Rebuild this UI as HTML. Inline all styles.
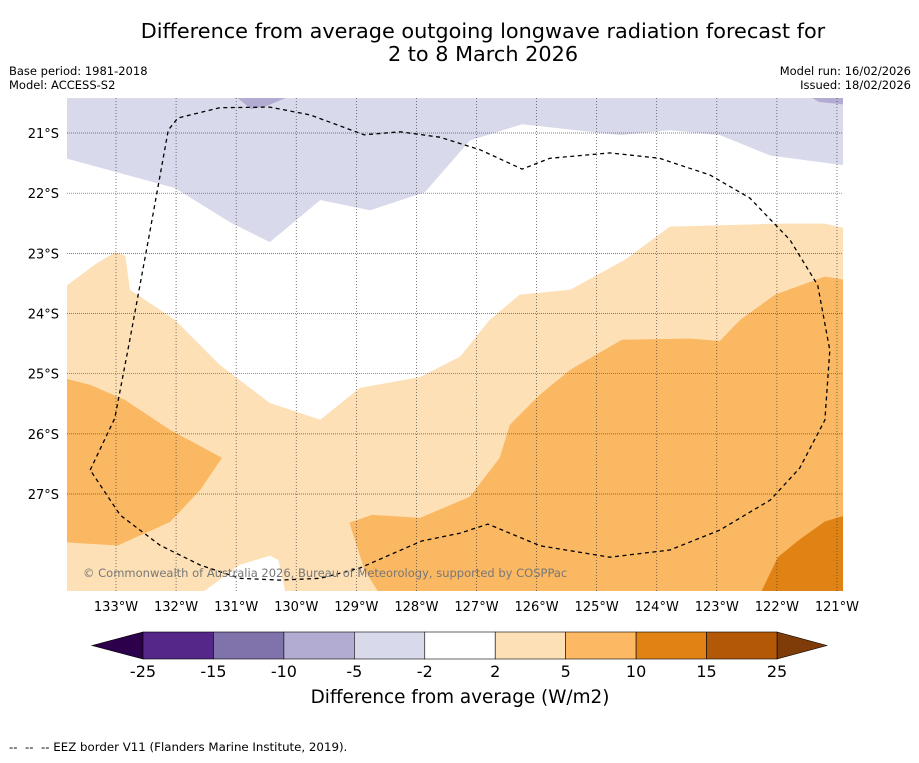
<!DOCTYPE html>
<html><head><meta charset="utf-8"><style>
body{margin:0;background:#fff;font-family:"Liberation Sans","DejaVu Sans",sans-serif}
</style></head><body>
<svg id="chart" width="919" height="758" xmlns="http://www.w3.org/2000/svg" font-family="DejaVu Sans, Liberation Sans, sans-serif">
<text x="483" y="38" font-size="20.8" text-anchor="middle">Difference from average outgoing longwave radiation forecast for</text>
<text x="483" y="61" font-size="20.8" text-anchor="middle">2 to 8 March 2026</text>
<text x="9" y="75" font-size="11.5">Base period: 1981-2018</text>
<text x="9" y="89" font-size="11.5">Model: ACCESS-S2</text>
<text x="911" y="75" font-size="11.5" text-anchor="end">Model run: 16/02/2026</text>
<text x="911" y="89" font-size="11.5" text-anchor="end">Issued: 18/02/2026</text>
<defs><clipPath id="mapclip"><rect x="67" y="98" width="776" height="493"/></clipPath></defs>
<g id="map" clip-path="url(#mapclip)"></g>
<g id="axes"></g>
<g id="cbar"></g>
<text x="460" y="703" font-size="18.4" text-anchor="middle">Difference from average (W/m2)</text>
<text x="9" y="751" font-size="11.8" xml:space="preserve" style="white-space:pre">--  --  -- EEZ border V11 (Flanders Marine Institute, 2019).</text>
</svg>
<script>
const lonTicks=[-133,-132,-131,-130,-129,-128,-127,-126,-125,-124,-123,-122,-121];
const latTicks=[-21,-22,-23,-24,-25,-26,-27];
const cbarLevels=[-25,-15,-10,-5,-2,2,5,10,15,25];
const cbarColors=["#542788","#8073ac","#b2abd2","#d8daeb","#ffffff","#fee0b6","#fdb863","#e08214","#b35806"];
const purpleLight=[[-133.82,-20.42],[-120.9,-20.42],[-120.9,-21.53],[-122.11,-21.37],[-122.95,-21.03],[-123.78,-20.95],[-124.61,-21.03],[-126.24,-20.85],[-127.11,-21.12],[-127.86,-21.98],[-128.77,-22.28],[-129.6,-22.11],[-130.44,-22.81],[-131.1,-22.48],[-132.02,-21.91],[-133.82,-21.42]];
const purpleMid1=[[-130.97,-20.42],[-130.19,-20.42],[-130.5,-20.55],[-130.75,-20.6]];
const purpleMid2=[[-121.4,-20.42],[-120.9,-20.42],[-120.9,-20.52],[-121.3,-20.48]];
const orangeLight=[[-133.82,-23.54],[-133.35,-23.19],[-133.02,-22.99],[-132.85,-23.04],[-132.77,-23.61],[-132.02,-24.11],[-131.27,-24.86],[-130.44,-25.49],[-129.6,-25.77],[-128.94,-25.24],[-127.94,-25.06],[-127.27,-24.72],[-126.78,-24.11],[-126.28,-23.69],[-125.44,-23.61],[-124.53,-23.11],[-123.78,-22.56],[-121.95,-22.51],[-121.2,-22.51],[-120.9,-22.58],[-120.9,-28.61],[-133.82,-28.61]];
const whitePatch=[[-131.52,-28.61],[-130.94,-28.18],[-130.44,-28.03],[-130.3,-28.1],[-130.19,-28.61]];
const orangeMid=[[-129.11,-27.48],[-128.74,-27.35],[-127.94,-27.4],[-127.11,-27.05],[-126.61,-26.4],[-126.44,-25.85],[-125.94,-25.35],[-125.44,-24.94],[-124.58,-24.44],[-123.45,-24.42],[-122.95,-24.46],[-122.61,-24.11],[-122.03,-23.69],[-121.2,-23.39],[-120.9,-23.44],[-120.9,-28.61],[-128.64,-28.61],[-128.86,-28.26]];
const orangeMidLeft=[[-133.82,-25.09],[-133.43,-25.19],[-132.85,-25.44],[-132.1,-25.94],[-131.24,-26.4],[-131.6,-26.93],[-132.1,-27.46],[-132.97,-27.85],[-133.82,-27.8]];
const orangeDark=[[-122.25,-28.61],[-121.98,-28.05],[-121.62,-27.76],[-121.2,-27.46],[-120.9,-27.37],[-120.9,-28.61]];
const eez=[[-133.43,-26.6],[-133.02,-25.74],[-132.77,-24.44],[-132.43,-22.61],[-132.13,-20.95],[-131.97,-20.75],[-131.27,-20.58],[-130.44,-20.57],[-129.77,-20.7],[-128.87,-21.03],[-128.27,-20.98],[-127.61,-21.07],[-126.94,-21.28],[-126.24,-21.6],[-125.78,-21.42],[-124.78,-21.33],[-123.95,-21.42],[-123.11,-21.7],[-122.45,-22.08],[-121.78,-22.78],[-121.32,-23.53],[-121.12,-24.61],[-121.2,-25.77],[-121.62,-26.57],[-122.11,-27.1],[-122.95,-27.6],[-123.78,-27.93],[-124.78,-28.05],[-125.94,-27.86],[-126.81,-27.5],[-127.27,-27.65],[-127.91,-27.78],[-128.44,-28.01],[-128.94,-28.23],[-129.6,-28.4],[-130.27,-28.43],[-130.94,-28.4],[-131.6,-28.18],[-132.27,-27.85],[-132.93,-27.35],[-133.43,-26.6]];

const NS="http://www.w3.org/2000/svg";
const xS=lon=>116+(lon+133)*60.08;
const yS=lat=>133+(-21-lat)*60.17;
const pts=a=>a.map(p=>xS(p[0]).toFixed(1)+","+yS(p[1]).toFixed(1)).join(" ");
function mk(tag,attrs,parent){const e=document.createElementNS(NS,tag);for(const k in attrs)e.setAttribute(k,attrs[k]);parent.appendChild(e);return e;}
const map=document.getElementById("map");
const shapes=[[purpleLight,"#d8d9ea","region-minus5-to-minus2"],[purpleMid1,"#b2abd2","region-minus10-to-minus5-a"],[purpleMid2,"#b2abd2","region-minus10-to-minus5-b"],[orangeLight,"#fde0b5","region-2-to-5"],[whitePatch,"#ffffff","region-neutral-patch"],[orangeMid,"#fbb863","region-5-to-10"],[orangeMidLeft,"#fbb863","region-5-to-10-west"],[orangeDark,"#e08214","region-10-to-15"]];
shapes.forEach(s=>{
 const p=mk("polygon",{points:pts(s[0]),fill:s[1],stroke:s[1],"stroke-width":0.5},map);
 
 
});
const ax=document.getElementById("axes");
lonTicks.forEach(l=>{
 const g=mk("line",{x1:xS(l),x2:xS(l),y1:98,y2:591,stroke:"#444","stroke-width":0.7,"stroke-dasharray":"1,2"},map);
 
 
 const t=mk("text",{x:xS(l),y:611,"font-size":13,"text-anchor":"middle"},ax);
 t.textContent=Math.abs(l)+"°W";
 
 
});
latTicks.forEach(l=>{
 const g=mk("line",{x1:67,x2:843,y1:yS(l),y2:yS(l),stroke:"#555","stroke-width":0.7,"stroke-dasharray":"1,1"},map);
 
 
 const t=mk("text",{x:59,y:yS(l)+5,"font-size":13,"text-anchor":"end"},ax);
 t.textContent=Math.abs(l)+"°S";
 
 
});
const eezLine=mk("polyline",{points:pts(eez),fill:"none",stroke:"#000","stroke-width":1.3,"stroke-dasharray":"4,3.5","stroke-linejoin":"round"},map);


const cr=mk("text",{x:83,y:577,"font-size":11.5,fill:"#777"},map);
cr.textContent="© Commonwealth of Australia 2026, Bureau of Meteorology, supported by COSPPac";


const cb=document.getElementById("cbar");
const cx0=143,cx1=777,cy0=632,cy1=659,n=cbarColors.length,w=(cx1-cx0)/n;
const le=mk("polygon",{points:`92,${(cy0+cy1)/2} ${cx0},${cy0} ${cx0},${cy1}`,fill:"#2d004b",stroke:"#000","stroke-width":0.6},cb);


const re=mk("polygon",{points:`827,${(cy0+cy1)/2} ${cx1},${cy0} ${cx1},${cy1}`,fill:"#7f3b08",stroke:"#000","stroke-width":0.6},cb);


cbarColors.forEach((c,i)=>{
 const r=mk("rect",{x:cx0+i*w,y:cy0,width:w,height:cy1-cy0,fill:c,stroke:"#000","stroke-width":0.6},cb);
 
 
});
cbarLevels.forEach((v,i)=>{
 const t=mk("text",{x:cx0+i*w,y:677,"font-size":16,"text-anchor":"middle"},cb);
 t.textContent=v;
 
 
});
</script>
</body></html>
